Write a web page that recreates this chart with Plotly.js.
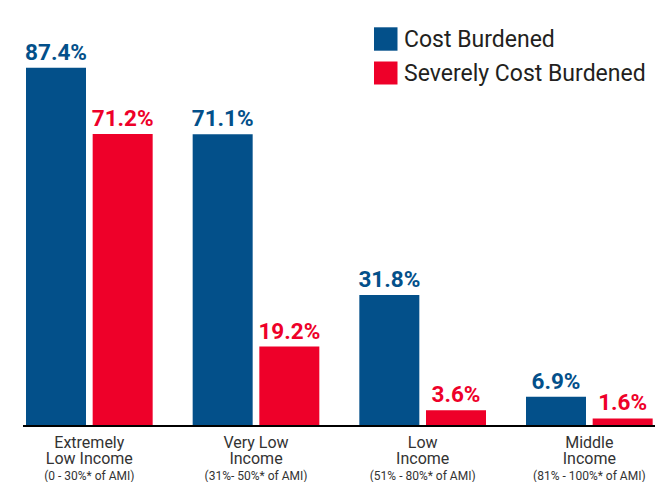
<!DOCTYPE html>
<html>
<head>
<meta charset="utf-8">
<script src="https://cdn.plot.ly/plotly-3.0.1.min.js"></script>
<style>html,body{margin:0;padding:0;background:#fff;}#chart{width:666px;height:482px;}</style>
</head>
<body>
<div id="chart"></div>
<script>
var categories = ["Extremely Low Income", "Very Low Income", "Low Income", "Middle Income"];
var tickLine1 = ["Extremely", "Very Low", "Low", "Middle"];
var tickLine2 = ["Low Income", "Income", "Income", "Income"];
var tickSub = ["(0 - 30%* of AMI)", "(31%- 50%* of AMI)", "(51% - 80%* of AMI)", "(81% - 100%* of AMI)"];
var costBurdened = [87.4, 71.1, 31.8, 6.9];
var severelyCostBurdened = [71.2, 19.2, 3.6, 1.6];
var seriesNames = ["Cost Burdened", "Severely Cost Burdened"];

var BLUE = "#03508A", RED = "#EE0029";
var FONT = "Roboto, 'DejaVu Sans Condensed', sans-serif";
var idx = categories.map(function (c, i) { return i; });

var tickText = idx.map(function (i) {
  return "<span style='font-size:16px'>" + tickLine1[i] + "</span><br>" +
         "<span style='font-size:16px'>" + tickLine2[i] + "</span><br>" +
         "<span style='font-size:12px'>" + tickSub[i] + "</span>";
});

function barTrace(vals, name, color, offset) {
  return {
    type: "bar", x: idx, y: vals, name: name,
    marker: {color: color, line: {width: 0}},
    width: 0.36, offset: offset,
    text: vals.map(function (v) { return v.toFixed(1) + "%"; }),
    textposition: "outside", constraintext: "none", cliponaxis: false,
    textfont: {family: FONT, size: 22.5, color: color, weight: "bold"},
    hoverinfo: "skip", showlegend: false
  };
}

var data = [
  barTrace(costBurdened, seriesNames[0], BLUE, -0.38),
  barTrace(severelyCostBurdened, seriesNames[1], RED, 0.02)
];

function px2x(px) { return (px - 23) / 632; }
function px2y(py) { return (425 - py) / 415; }

var shapes = [
  {type: "rect", xref: "paper", yref: "paper", x0: px2x(374), x1: px2x(397.5), y0: px2y(50.7), y1: px2y(27.3), fillcolor: BLUE, line: {width: 0}},
  {type: "rect", xref: "paper", yref: "paper", x0: px2x(374), x1: px2x(397.5), y0: px2y(84.5), y1: px2y(61.5), fillcolor: RED, line: {width: 0}}
];
var annotations = [
  {xref: "paper", yref: "paper", x: px2x(402), y: px2y(39), xanchor: "left", yanchor: "middle", showarrow: false, text: seriesNames[0], font: {family: FONT, size: 23, color: "#231F20"}},
  {xref: "paper", yref: "paper", x: px2x(402), y: px2y(73), xanchor: "left", yanchor: "middle", showarrow: false, text: seriesNames[1], font: {family: FONT, size: 23, color: "#231F20"}}
];

var layout = {
  width: 666, height: 482,
  margin: {l: 23, r: 11, t: 10, b: 57, pad: 0},
  paper_bgcolor: "#fff", plot_bgcolor: "#fff",
  showlegend: false,
  xaxis: {
    range: [-0.398, 3.394], tickmode: "array", tickvals: idx, ticktext: tickText,
    tickfont: {family: FONT, size: 12.4, color: "#333"},
    showline: true, linecolor: "#000", linewidth: 2, showgrid: false, zeroline: false,
    ticks: "", ticklabelstandoff: 6, fixedrange: true
  },
  yaxis: {range: [0, 101.5], visible: false, showgrid: false, zeroline: false, fixedrange: true},
  shapes: shapes, annotations: annotations
};

Plotly.newPlot("chart", data, layout, {displayModeBar: false, staticPlot: true});
</script>
</body>
</html>
